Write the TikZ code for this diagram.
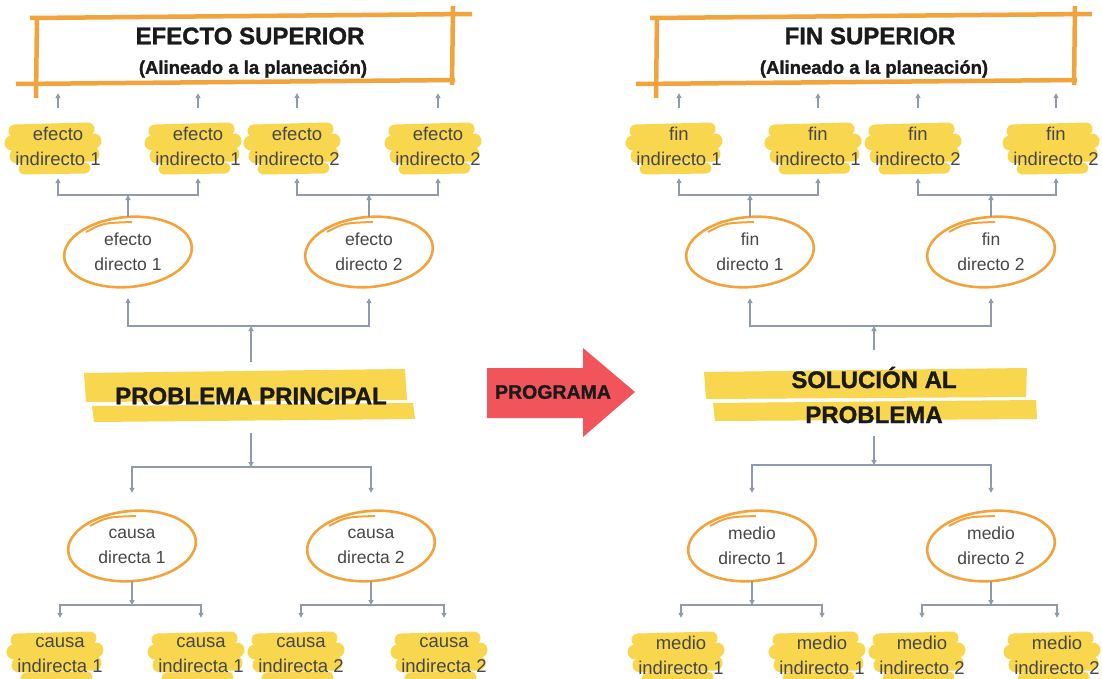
\documentclass[tikz,border=0pt]{standalone}
\usepackage{fontspec}
\setmainfont{Liberation Sans}
\newfontfamily\heavyfont[FakeBold=1.2]{Liberation Sans Bold}
\usetikzlibrary{shapes.geometric,arrows.meta}
\definecolor{hl}{HTML}{F8D64E}
\definecolor{org}{HTML}{F2A43C}
\definecolor{conncol}{HTML}{8F9BAB}
\definecolor{redarrow}{HTML}{F2545B}
\definecolor{txt}{HTML}{474747}
\definecolor{ink}{HTML}{1A1A1A}
\pgfdeclarelayer{bg}
\pgfsetlayers{bg,main}
\tikzset{
  leaf/.style={align=center, inner sep=0pt, minimum height=44pt, text=txt, font=\fontsize{18.5}{25}\selectfont},
  direct/.style={ellipse, align=center, inner sep=0pt, minimum width=128pt, minimum height=70pt, text=txt, font=\fontsize{17.5}{25}\selectfont},
  conn/.style={draw=conncol, line width=1.6pt},
  arr/.style={conn, -{Triangle[length=5pt,width=5pt]}},
  boxline/.style={draw=org, line width=4.5pt},
  heavy/.style={text=ink, align=center, inner sep=0pt, font=\heavyfont\fontsize{24}{35}\selectfont},
  subtitle/.style={text=ink, align=center, inner sep=0pt, font=\heavyfont\fontsize{18.5}{22}\selectfont},
  anchorbox/.style={inner sep=0pt, minimum width=416pt, minimum height=66pt},
  pics/blob/.style={code={
    \draw[hl, line width=13pt, line cap=round] (-43,-15) -- (30,-17);
    \draw[hl, line width=15pt, line cap=round] (-46,-3) -- (36,-5);
    \draw[hl, line width=15pt, line cap=round] (-41,10) -- (34,8);
    \draw[hl, line width=11pt, line cap=round] (-34,23) -- (27,22);
  }},
  pics/ring/.style={code={
    \draw[org, line width=2.6pt, rotate=5] (0,0) ellipse (64 and 35);
    \draw[org, line width=2pt] (-42,-20) .. controls (-25,-29) .. (4,-30);
  }},
}
\begin{document}
\begin{tikzpicture}[x=1pt,y=-1pt]
\useasboundingbox (0,0) rectangle (1102,679);

% ---------- top boxes ----------
\node[anchorbox] (boxL) at (245,50) {};
\node[anchorbox] (boxR) at (865,50) {};
\draw[boxline] (30,18) -- (472,14);
\draw[boxline] (453,6) -- (452,85);
\draw[boxline] (37,17) -- (36,98);
\draw[boxline] (16,84) -- (455,80);
\draw[boxline] (650,18) -- (1092,14);
\draw[boxline] (1075,6) -- (1074,85);
\draw[boxline] (657,17) -- (656,98);
\draw[boxline] (636,84) -- (1077,80);
\node[heavy] (tL) at (250,36) {EFECTO SUPERIOR};
\node[subtitle] (sL) at (253,69) {(Alineado a la planeación)};
\node[heavy] (tR) at (870,36) {FIN SUPERIOR};
\node[subtitle] (sR) at (874,69) {(Alineado a la planeación)};

% ---------- leaves top ----------
\node[leaf] (l1) at (58,146) {efecto\\indirecto 1};
\node[leaf] (l2) at (198,146) {efecto\\indirecto 1};
\node[leaf] (l3) at (297,146) {efecto\\indirecto 2};
\node[leaf] (l4) at (438,146) {efecto\\indirecto 2};
\node[leaf] (r1) at (679,146) {fin\\indirecto 1};
\node[leaf] (r2) at (818,146) {fin\\indirecto 1};
\node[leaf] (r3) at (918,146) {fin\\indirecto 2};
\node[leaf] (r4) at (1056,146) {fin\\indirecto 2};

% ---------- leaves bottom ----------
\node[leaf] (cl1) at (60,655) {causa\\indirecta 1};
\node[leaf] (cl2) at (201,655) {causa\\indirecta 1};
\node[leaf] (cl3) at (301,655) {causa\\indirecta 2};
\node[leaf] (cl4) at (444,655) {causa\\indirecta 2};
\node[leaf] (ml1) at (681,655) {medio\\indirecto 1};
\node[leaf] (ml2) at (822,655) {medio\\indirecto 1};
\node[leaf] (ml3) at (922,655) {medio\\indirecto 2};
\node[leaf] (ml4) at (1057,655) {medio\\indirecto 2};

% ---------- ellipses ----------
\node[direct] (e1) at (128,252) {efecto\\directo 1};
\node[direct] (e2) at (369,252) {efecto\\directo 2};
\node[direct] (f1) at (750,252) {fin\\directo 1};
\node[direct] (f2) at (991,252) {fin\\directo 2};
\node[direct] (c1) at (132,546) {causa\\directa 1};
\node[direct] (c2) at (371,546) {causa\\directa 2};
\node[direct] (m1) at (752,546) {medio\\directo 1};
\node[direct] (m2) at (991,546) {medio\\directo 2};
\foreach \n in {e1,e2,f1,f2,c1,c2,m1,m2} \pic at (\n.center) {ring};

% ---------- central nodes ----------
\node[heavy, minimum height=50pt] (P) at (251,396) {PROBLEMA PRINCIPAL};
\node[heavy, minimum height=50pt] (S) at (874,395) {SOLUCIÓN AL\\PROBLEMA};

% ---------- red arrow ----------
\fill[redarrow] (487,368) -- (583,368) -- (583,348) -- (635,392) -- (583,437) -- (583,418) -- (487,418) -- cycle;
\node[text=ink, inner sep=0pt, font=\heavyfont\fontsize{19.5}{22}\selectfont] (prog) at (553,392) {PROGRAMA};

% ---------- highlights (background) ----------
\begin{pgfonlayer}{bg}
\fill[white] (0,0) rectangle (1102,679);
\foreach \n in {l1,l2,l3,l4,r1,r2,r3,r4,cl1,cl2,cl3,cl4,ml1,ml2,ml3,ml4} \pic at (\n.center) {blob};
\fill[hl] (84,373) -- (405,369) -- (407,400) -- (86,402) -- cycle;
\fill[hl] (92,406) -- (413,403) -- (415,419) -- (94,422) -- cycle;
\fill[hl] (704,372) -- (1027,368) -- (1026,397) -- (706,399) -- cycle;
\fill[hl] (713,403) -- (1036,400) -- (1037,419) -- (715,421) -- cycle;
\end{pgfonlayer}

% ---------- arrows to top boxes ----------
\foreach \n in {l1,l2,l3,l4}
  \draw[arr, shorten <=16pt, shorten >=10pt] (\n.north) -- (\n.north |- boxL.south);
\foreach \n in {r1,r2,r3,r4}
  \draw[arr, shorten <=16pt, shorten >=10pt] (\n.north) -- (\n.north |- boxR.south);

% ---------- brackets: ellipses to top leaves ----------
\coordinate (jE1) at (e1.north |- 0,195);
\coordinate (jE2) at (e2.north |- 0,195);
\coordinate (jF1) at (f1.north |- 0,195);
\coordinate (jF2) at (f2.north |- 0,195);
\draw[arr] (e1.north) -- (jE1);
\draw[arr, shorten >=10pt] (jE1) -| (l1.south);
\draw[arr, shorten >=10pt] (jE1) -| (l2.south);
\draw[arr] (e2.north) -- (jE2);
\draw[arr, shorten >=10pt] (jE2) -| (l3.south);
\draw[arr, shorten >=10pt] (jE2) -| (l4.south);
\draw[arr] (f1.north) -- (jF1);
\draw[arr, shorten >=10pt] (jF1) -| (r1.south);
\draw[arr, shorten >=10pt] (jF1) -| (r2.south);
\draw[arr] (f2.north) -- (jF2);
\draw[arr, shorten >=10pt] (jF2) -| (r3.south);
\draw[arr, shorten >=10pt] (jF2) -| (r4.south);

% ---------- central up/down ----------
\coordinate (jPu) at (P.north |- 0,326);
\coordinate (jPd) at (P.south |- 0,467);
\draw[arr, shorten <=9pt] (P.north) -- (jPu);
\draw[arr, shorten >=11pt] (jPu) -| (e1.south);
\draw[arr, shorten >=11pt] (jPu) -| (e2.south);
\draw[arr, shorten <=12pt] (P.south) -- (jPd);
\draw[arr, shorten >=18pt] (jPd) -| (c1.north);
\draw[arr, shorten >=18pt] (jPd) -| (c2.north);

\coordinate (jSu) at (S.north |- 0,326);
\coordinate (jSd) at (S.south |- 0,465);
\draw[arr, shorten <=17pt] (S.north) -- (jSu);
\draw[arr, shorten >=11pt] (jSu) -| (f1.south);
\draw[arr, shorten >=11pt] (jSu) -| (f2.south);
\draw[arr, shorten <=13pt] (S.south) -- (jSd);
\draw[arr, shorten >=18pt] (jSd) -| (m1.north);
\draw[arr, shorten >=18pt] (jSd) -| (m2.north);

% ---------- bottom brackets ----------
\coordinate (jC1) at (c1.south |- 0,605);
\coordinate (jC2) at (c2.south |- 0,605);
\coordinate (jM1) at (m1.south |- 0,605);
\coordinate (jM2) at (m2.south |- 0,605);
\draw[arr] (c1.south) -- (jC1);
\draw[arr, shorten >=15pt] (jC1) -| (cl1.north);
\draw[arr, shorten >=15pt] (jC1) -| (cl2.north);
\draw[arr] (c2.south) -- (jC2);
\draw[arr, shorten >=15pt] (jC2) -| (cl3.north);
\draw[arr, shorten >=15pt] (jC2) -| (cl4.north);
\draw[arr] (m1.south) -- (jM1);
\draw[arr, shorten >=15pt] (jM1) -| (ml1.north);
\draw[arr, shorten >=15pt] (jM1) -| (ml2.north);
\draw[arr] (m2.south) -- (jM2);
\draw[arr, shorten >=15pt] (jM2) -| (ml3.north);
\draw[arr, shorten >=15pt] (jM2) -| (ml4.north);
\end{tikzpicture}
\end{document}
